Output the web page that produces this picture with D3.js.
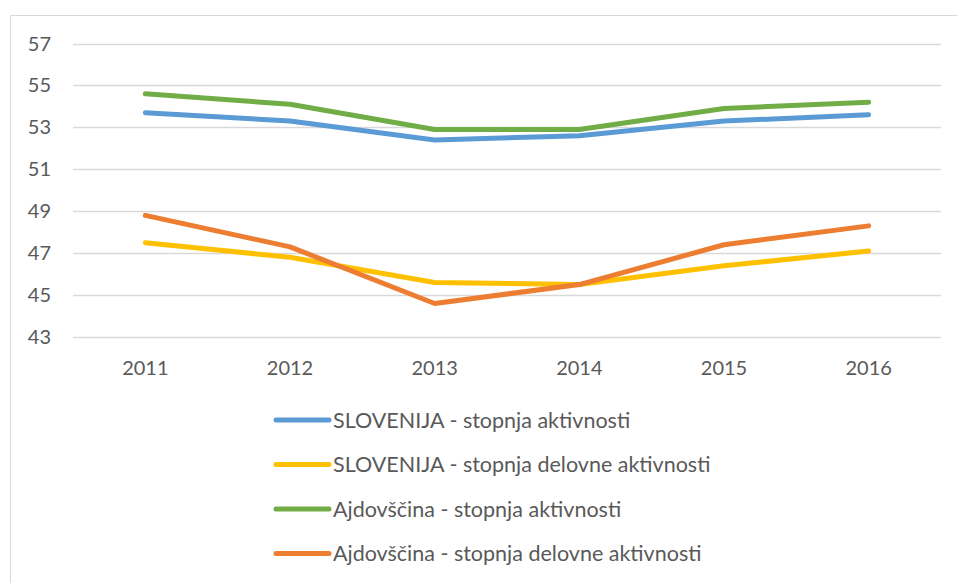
<!DOCTYPE html>
<html>
<head>
<meta charset="utf-8">
<script src="https://cdn.jsdelivr.net/npm/d3@7"></script>
<style>
  body { margin: 0; background: #fff; }
  text { font-family: Lato, "Open Sans", sans-serif; fill: #595959; }
</style>
</head>
<body>
<div id="chart"></div>
<script>
var years = ['2011', '2012', '2013', '2014', '2015', '2016'];
var yTicks = [43, 45, 47, 49, 51, 53, 55, 57];

var sloAkt = [53.7, 53.3, 52.4, 52.6, 53.3, 53.6];
var sloDel = [47.5, 46.8, 45.6, 45.5, 46.4, 47.1];
var ajdAkt = [54.6, 54.1, 52.9, 52.9, 53.9, 54.2];
var ajdDel = [48.8, 47.3, 44.6, 45.5, 47.4, 48.3];

var seriesNames = [
  'SLOVENIJA - stopnja aktivnosti',
  'SLOVENIJA - stopnja delovne aktivnosti',
  'Ajdovščina - stopnja aktivnosti',
  'Ajdovščina - stopnja delovne aktivnosti'
];
var colors = ['#5b9bd5', '#ffc000', '#70ad47', '#ed7d31'];

var series = [sloAkt, sloDel, ajdAkt, ajdDel].map(function(v, i) {
  return { name: seriesNames[i], values: v, color: colors[i] };
});

var w = 957,
    h = 583;

var svg = d3.select('#chart')
    .append('svg')
    .attr('width', w)
    .attr('height', h);

// chart area border
svg.append('rect')
    .attr('x', 10.5)
    .attr('y', 15.5)
    .attr('width', 960)
    .attr('height', 580)
    .attr('fill', 'none')
    .attr('stroke', '#d9d9d9');

var x = d3.scaleBand()
    .domain(years)
    .range([73, 941]);

var y = d3.scaleLinear()
    .domain([43, 57])
    .range([337, 43.5]);

svg.selectAll('.grid')
    .data(yTicks)
    .enter()
    .append('line')
    .attr('x1', 73)
    .attr('x2', 941)
    .attr('y1', function(d) { return Math.round(y(d)) + 0.5; })
    .attr('y2', function(d) { return Math.round(y(d)) + 0.5; })
    .style('stroke', '#d9d9d9')
    .style('stroke-width', 1.5);

svg.selectAll('.ytick')
    .data(yTicks)
    .enter()
    .append('text')
    .attr('x', 51)
    .attr('y', function(d) { return y(d); })
    .attr('dy', '0.35em')
    .attr('text-anchor', 'end')
    .style('font-size', '20px')
    .text(function(d) { return d; });

svg.selectAll('.xtick')
    .data(years)
    .enter()
    .append('text')
    .attr('x', function(d) { return x(d) + x.bandwidth() / 2; })
    .attr('y', 368)
    .attr('dy', '0.35em')
    .attr('text-anchor', 'middle')
    .style('font-size', '20px')
    .text(function(d) { return d; });

var line = d3.line()
    .x(function(d, i) { return x(years[i]) + x.bandwidth() / 2; })
    .y(function(d) { return y(d); });

svg.selectAll('.series')
    .data(series)
    .enter()
    .append('path')
    .attr('d', function(d) { return line(d.values); })
    .attr('fill', 'none')
    .attr('stroke', function(d) { return d.color; })
    .attr('stroke-width', 5)
    .attr('stroke-linecap', 'round')
    .attr('stroke-linejoin', 'round');

var legend = svg.selectAll('.legend')
    .data(series)
    .enter()
    .append('g')
    .attr('transform', function(d, i) { return 'translate(0,' + (420 + i * 44.5) + ')'; });

legend.append('line')
    .attr('x1', 276)
    .attr('x2', 329)
    .attr('y1', 0)
    .attr('y2', 0)
    .attr('stroke', function(d) { return d.color; })
    .attr('stroke-width', 5)
    .attr('stroke-linecap', 'round');

legend.append('text')
    .attr('x', 333)
    .attr('y', 0)
    .attr('dy', '0.35em')
    .style('font-size', '21.5px')
    .text(function(d) { return d.name; });
</script>
</body>
</html>
